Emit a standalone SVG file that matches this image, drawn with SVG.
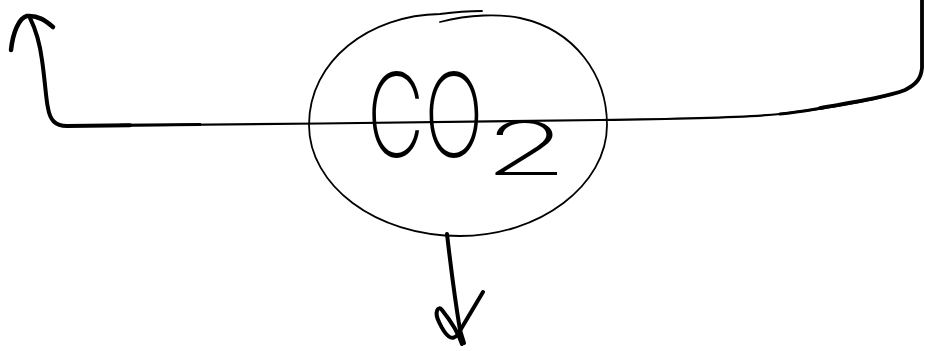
<svg xmlns="http://www.w3.org/2000/svg" width="925" height="351" viewBox="0 0 925 351">
<style>
.ink{fill:none;stroke:#000;stroke-linecap:round;stroke-linejoin:round}
.t{font-family:Inter,"Open Sans","Liberation Sans",sans-serif;font-weight:200;fill:#000}
</style>
<rect width="925" height="351" fill="#fff"/>
<g id="connectors">
<path class="ink" stroke-width="2.2" d="M67,126 C120,125 200,124 320,123.5 C420,122.5 520,121 600,120 C680,119 740,118 780,114 C830,108 880,100 905,90 C917,84 921,78 922,68 L922,0"/>
<path class="ink" stroke-width="3" d="M120,125.3 L200,124.6"/>
<path class="ink" stroke-width="4" d="M30,18 C36,30 40,45 42,60 C45,80 46,100 48,108 C50,120 55,126 67,126 C90,125.7 110,125.4 130,125.2"/>
<path class="ink" stroke-width="3.8" d="M820,108 C860,101 890,96 905,90 C917,84 921,78 922,68 L922,0"/>
<path class="ink" stroke-width="3" d="M780,114 C800,112 815,109 825,107.5"/>
<path class="ink" stroke-width="4.5" d="M11,50 C13,32 19,18 27,16 C38,15 46,21 53,27"/>
<path class="ink" stroke-width="4" d="M447,234 C450,260 455,300 460,330 L464,343"/>
<path class="ink" stroke-width="4" d="M483,292 L458,334 C452,343 445,335 439,322 C434,312 438,305 442,310 C450,320 458,332 462,344"/>
</g>
<g id="co2">
<path class="ink" stroke-width="1.8" d="M440,22 C470,14 500,14 520,18 C575,30 607,75 607,125 C607,185 540,236 460,236 C375,236 309,185 309,125 C309,60 370,15 440,14 C455,12 470,11 482,11"/>
<text class="t" transform="translate(367,157) scale(0.68,1)" font-size="116">CO<tspan font-size="74" dx="0" dy="18" textLength="125" lengthAdjust="spacingAndGlyphs">2</tspan></text>
</g>
</svg>
